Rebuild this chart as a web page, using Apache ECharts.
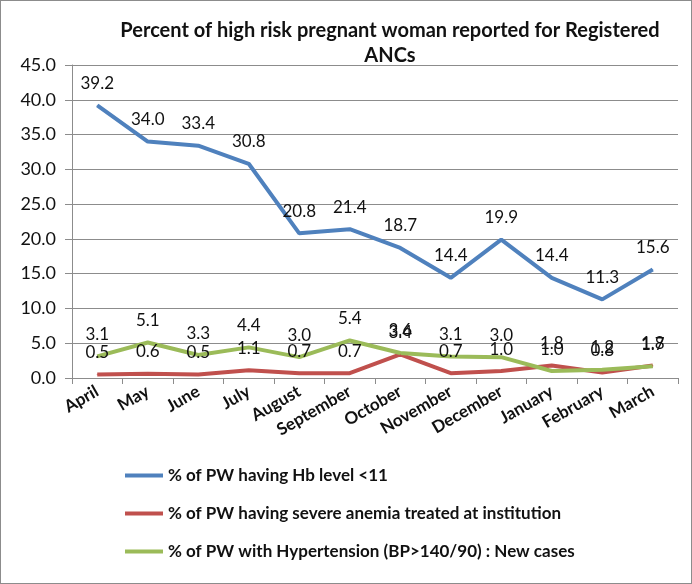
<!DOCTYPE html>
<html>
<head>
<meta charset="utf-8">
<script src="https://cdn.jsdelivr.net/npm/echarts@6/dist/echarts.min.js"></script>
<style>
  html, body { margin: 0; padding: 0; background: #fff; }
  #chart { width: 690px; height: 582px; border: 1px solid #8c8c8c; }
</style>
</head>
<body>
<div id="chart"></div>
<script>
const months = ['April', 'May', 'June', 'July', 'August', 'September', 'October',
  'November', 'December', 'January', 'February', 'March'];
const hbLow = [39.2, 34.0, 33.4, 30.8, 20.8, 21.4, 18.7, 14.4, 19.9, 14.4, 11.3, 15.6];
const severeAnemia = [0.5, 0.6, 0.5, 1.1, 0.7, 0.7, 3.4, 0.7, 1.0, 1.8, 0.8, 1.8];
const hypertension = [3.1, 5.1, 3.3, 4.4, 3.0, 5.4, 3.6, 3.1, 3.0, 1.0, 1.2, 1.7];
const seriesNames = [
  '% of PW having Hb level <11',
  '% of PW having severe anemia treated at institution',
  '% of PW with Hypertension (BP>140/90) : New cases'
];
const colors = ['#4F81BD', '#C0504D', '#9BBB59'];

const font = 'Lato, "Liberation Sans", sans-serif';

const chart = echarts.init(document.getElementById('chart'));

// line with a value label above every point (tiny symbol so labels get drawn)
function lineSeries(name, data, color) {
  return {
    name: name,
    type: 'line',
    data: data,
    symbol: 'circle',
    symbolSize: 1,
    showAllSymbol: true,
    lineStyle: { color: color, width: 4 },
    itemStyle: { color: color },
    label: {
      show: true,
      position: 'top',
      distance: 13,
      color: '#111',
      fontFamily: font,
      fontSize: 17,
      formatter: p => p.value.toFixed(1)
    },
    labelLayout: { hideOverlap: false }
  };
}

chart.setOption({
  animation: false,
  title: {
    text: 'Percent of high risk pregnant woman reported for Registered\nANCs',
    left: 384,
    top: 12,
    textAlign: 'center',
    textStyle: { fontFamily: font, fontWeight: 'bold', fontSize: 20, lineHeight: 25, color: '#111' }
  },
  grid: { left: 71, right: 13, top: 64, bottom: 205 },
  xAxis: {
    type: 'category',
    data: months,
    boundaryGap: true,
    axisLine: { lineStyle: { color: '#8c8c8c' } },
    axisTick: { show: true, length: 6, lineStyle: { color: '#8c8c8c' } },
    axisLabel: {
      rotate: 30,
      interval: 0,
      margin: 12,
      color: '#111',
      fontFamily: font,
      fontWeight: 'bold',
      fontSize: 17
    }
  },
  yAxis: {
    type: 'value',
    min: 0,
    max: 45,
    interval: 5,
    axisLine: { show: true, lineStyle: { color: '#8c8c8c' } },
    axisTick: { show: true, length: 7, lineStyle: { color: '#8c8c8c' } },
    splitLine: { lineStyle: { color: '#8c8c8c' } },
    axisLabel: {
      color: '#111',
      fontFamily: font,
      fontSize: 18,
      margin: 16,
      formatter: v => v.toFixed(1)
    }
  },
  legend: {
    orient: 'vertical',
    left: 119,
    top: 461,
    itemGap: 21,
    itemWidth: 38,
    itemHeight: 4,
    icon: 'rect',
    textStyle: { fontFamily: font, fontWeight: 'bold', fontSize: 17, color: '#111' },
    data: seriesNames
  },
  series: [
    lineSeries(seriesNames[0], hbLow, colors[0]),
    lineSeries(seriesNames[1], severeAnemia, colors[1]),
    lineSeries(seriesNames[2], hypertension, colors[2])
  ]
});
</script>
</body>
</html>
